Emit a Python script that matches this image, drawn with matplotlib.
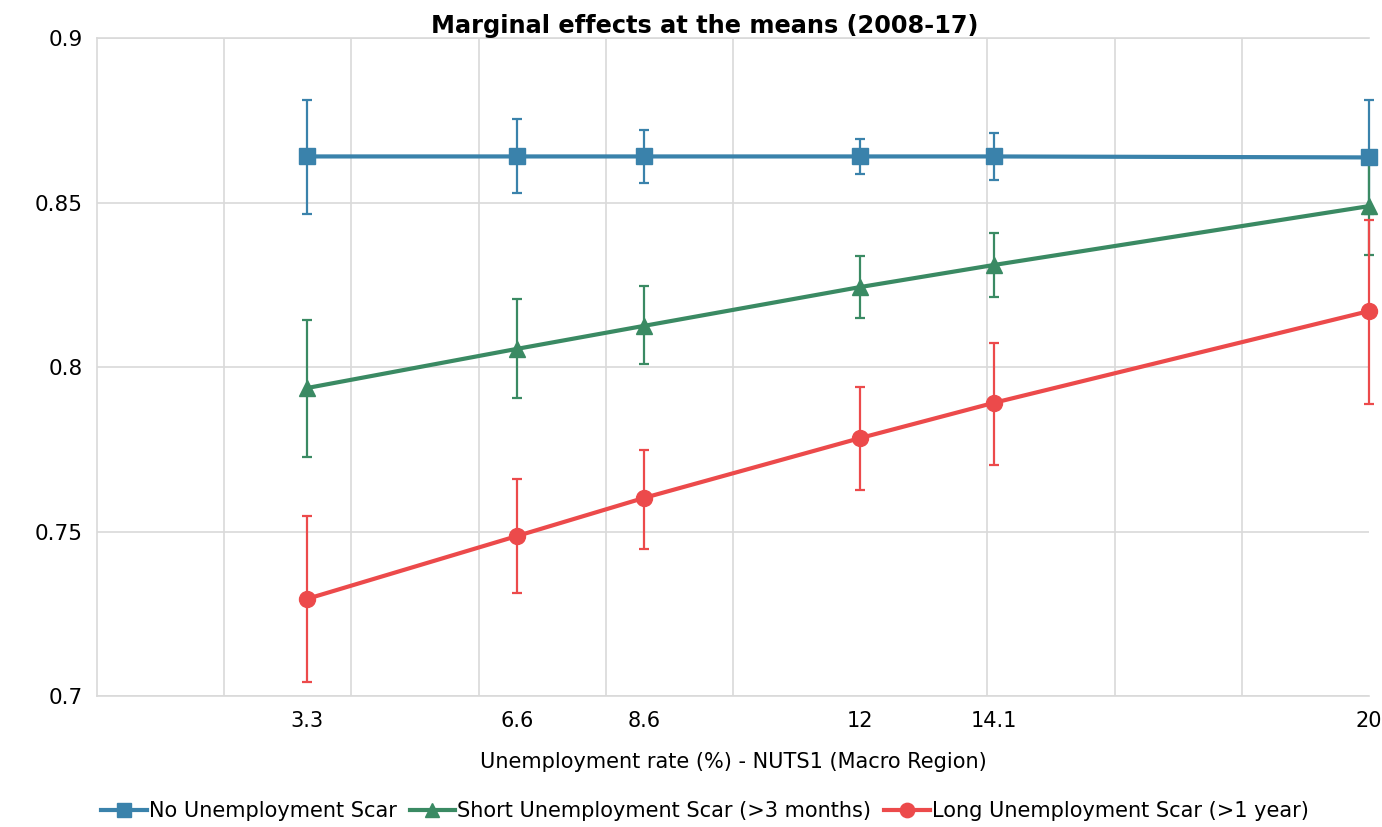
import matplotlib.pyplot as plt
from matplotlib.lines import Line2D

# unemployment rate points (NUTS1)
unemp = [3.3, 6.6, 8.6, 12, 14.1, 20]

no_scar = [0.864, 0.864, 0.864, 0.864, 0.864, 0.8637]
no_scar_lo = [0.8465, 0.8529, 0.8559, 0.8587, 0.8568, 0.8465]
no_scar_hi = [0.8812, 0.8754, 0.8720, 0.8693, 0.8711, 0.8812]

short_scar = [0.7936, 0.8055, 0.8125, 0.8243, 0.8310, 0.8489]
short_scar_lo = [0.7726, 0.7906, 0.8009, 0.8149, 0.8213, 0.8340]
short_scar_hi = [0.8143, 0.8207, 0.8246, 0.8337, 0.8407, 0.8638]

long_scar = [0.7295, 0.7486, 0.7602, 0.7784, 0.7891, 0.8170]
long_scar_lo = [0.7043, 0.7313, 0.7447, 0.7626, 0.7702, 0.7888]
long_scar_hi = [0.7547, 0.7660, 0.7748, 0.7939, 0.8073, 0.8447]

series = [
    ("No Unemployment Scar", no_scar, no_scar_lo, no_scar_hi, "#3a82ab", "s"),
    ("Short Unemployment Scar (>3 months)", short_scar, short_scar_lo, short_scar_hi, "#3a8a63", "^"),
    ("Long Unemployment Scar (>1 year)", long_scar, long_scar_lo, long_scar_hi, "#ec4a4b", "o"),
]

plt.rcParams["font.family"] = ["DejaVu Sans"]

fig = plt.figure(figsize=(13.82, 8.27), dpi=100)
ax = fig.add_axes([97 / 1382, 1 - 696 / 827, (1369 - 97) / 1382, (696 - 38) / 827])

handles = []
for name, y, lo, hi, col, mk in series:
    err = [[v - l for v, l in zip(y, lo)], [h - v for v, h in zip(y, hi)]]
    ms = 11.5 if mk == "o" else 11
    ax.errorbar(unemp, y, yerr=err, color=col, marker=mk, markersize=ms,
                lw=3, elinewidth=1.6, capsize=3.5, capthick=1.6, clip_on=False, zorder=3)
    handles.append(Line2D([], [], color=col, marker=mk, markersize=ms * 0.9, lw=3, label=name))

ax.set_xlim(0, 20)
ax.set_ylim(0.7, 0.9)
ax.set_xticks(unemp)
ax.set_xticklabels(["3.3", "6.6", "8.6", "12", "14.1", "20"])
ax.set_xticks(range(2, 21, 2), minor=True)
ax.set_yticks([0.7, 0.75, 0.8, 0.85, 0.9])
ax.set_yticklabels(["0.7", "0.75", "0.8", "0.85", "0.9"])
ax.grid(True, which="minor", axis="x", color="#d9d9d9", lw=1.2)
ax.grid(True, which="major", axis="y", color="#d9d9d9", lw=1.2)
ax.tick_params(which="both", length=0)
ax.tick_params(axis="x", pad=11, labelsize=15)
ax.tick_params(axis="y", pad=10, labelsize=15.5)
for s in ["left", "top", "bottom"]:
    ax.spines[s].set_color("#d9d9d9")
    ax.spines[s].set_linewidth(1.2)
ax.spines["right"].set_visible(False)
ax.set_axisbelow(True)

ax.set_xlabel("Unemployment rate (%) - NUTS1 (Macro Region)", fontsize=15, labelpad=15)
fig.text(705 / 1382, 1 - 26 / 827, "Marginal effects at the means (2008-17)",
         ha="center", va="center", fontsize=17.3, fontweight="bold")

ax.legend(handles=handles, loc="center", bbox_to_anchor=(0.478, -0.175), ncol=3, frameon=False,
          fontsize=15, handlelength=2.2, handletextpad=0.1, columnspacing=0.6)

fig.savefig("out.png", dpi=100)
